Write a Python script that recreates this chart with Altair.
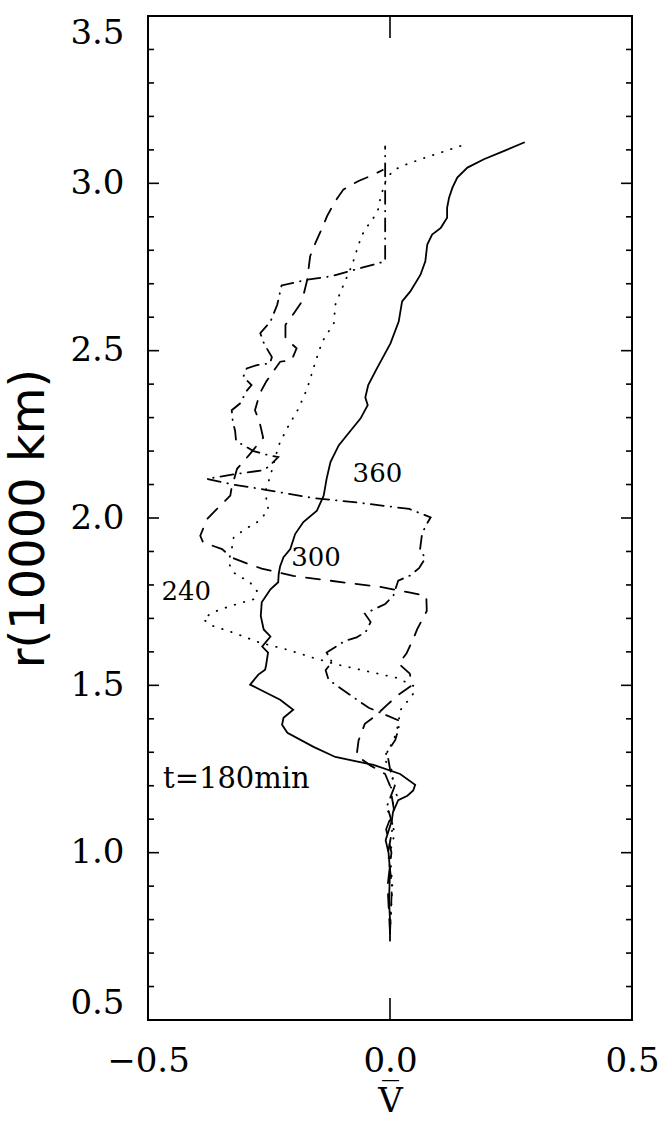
import altair as alt
import pandas as pd

# Mean radial velocity profiles V(r) at four times (V, r in 10000 km),
# listed from the inner end of each profile outward.
t180_v = [0.0, 0.0, -0.002, 0.0, -0.003, -0.009, -0.004, 0.004, 0.006, 0.017, 0.036, 0.048, 0.052,
          0.021, -0.034, -0.113, -0.158, -0.212, -0.223, -0.22, -0.2, -0.227, -0.268, -0.289, -0.272,
          -0.258, -0.256, -0.252, -0.264, -0.247, -0.261, -0.267, -0.265, -0.247, -0.231, -0.23,
          -0.227, -0.22, -0.206, -0.196, -0.179, -0.151, -0.14, -0.137, -0.131, -0.123, -0.106,
          -0.082, -0.061, -0.046, -0.051, -0.045, -0.027, 0.001, 0.018, 0.025, 0.042, 0.063, 0.073,
          0.077, 0.087, 0.105, 0.118, 0.118, 0.122, 0.129, 0.139, 0.16, 0.194, 0.236, 0.277]
t180_r = [0.737, 0.80, 0.857, 0.947, 1.0, 1.037, 1.06, 1.097, 1.12, 1.157, 1.17, 1.186, 1.203,
          1.235, 1.262, 1.286, 1.316, 1.358, 1.382, 1.403, 1.427, 1.457, 1.487, 1.502, 1.532,
          1.547, 1.56, 1.598, 1.616, 1.646, 1.667, 1.707, 1.748, 1.787, 1.808, 1.832,
          1.856, 1.883, 1.907, 1.952, 1.988, 2.022, 2.057, 2.067, 2.117, 2.167, 2.217,
          2.26, 2.297, 2.337, 2.36, 2.397, 2.447, 2.522, 2.587, 2.647, 2.677, 2.727, 2.767,
          2.817, 2.847, 2.867, 2.897, 2.927, 2.957, 2.987, 3.017, 3.047, 3.072, 3.097, 3.122]

t240_v = [0.0, 0.005, 0.0, 0.01, -0.005, 0.015, 0.001, 0.008, -0.013, 0.008, 0.015, 0.022, 0.036,
          0.049, 0.05, 0.015, -0.047, -0.109, -0.158, -0.213, -0.268, -0.323, -0.365, -0.386,
          -0.368, -0.33, -0.282, -0.275, -0.289, -0.323, -0.334, -0.327, -0.323, -0.299, -0.275,
          -0.251, -0.258, -0.247, -0.23, -0.213, -0.189, -0.171, -0.154, -0.14, -0.116, -0.113,
          -0.096, -0.078, -0.065, -0.054, -0.034, -0.023, -0.02, -0.009, 0.005, 0.025, 0.063,
          0.105, 0.153]
t240_r = [0.76, 0.9, 1.0, 1.06, 1.12, 1.17, 1.197, 1.237, 1.282, 1.337, 1.372, 1.427, 1.452,
          1.477, 1.497, 1.522, 1.542, 1.562, 1.582, 1.607, 1.627, 1.657, 1.677, 1.697,
          1.717, 1.737, 1.757, 1.782, 1.807, 1.837, 1.867, 1.907, 1.942, 1.967, 1.987,
          2.022, 2.077, 2.127, 2.217, 2.267, 2.327, 2.387, 2.467, 2.527, 2.582, 2.637,
          2.697, 2.757, 2.817, 2.857, 2.897, 2.927, 2.957, 3.007, 3.037, 3.052, 3.072,
          3.092, 3.115]

t300_v = [0.0, -0.005, 0.003, -0.008, 0.008, 0.0, -0.01, -0.04, -0.069, -0.065, -0.052, -0.031,
          -0.007, 0.014, 0.045, 0.041, 0.018, 0.034, 0.049, 0.056, 0.076, 0.075, 0.042, -0.02,
          -0.082, -0.2, -0.265, -0.292, -0.327, -0.347, -0.386, -0.392, -0.378, -0.361, -0.33,
          -0.327, -0.316, -0.29, -0.262, -0.27, -0.279, -0.269, -0.256, -0.24, -0.227, -0.203,
          -0.193, -0.216, -0.216, -0.196, -0.182, -0.171, -0.165, -0.154, -0.14, -0.13, -0.113,
          -0.096, -0.065, -0.04, -0.015]
t300_r = [0.76, 0.9, 1.0, 1.07, 1.13, 1.2, 1.235, 1.26, 1.29, 1.335, 1.385, 1.408,
          1.44, 1.468, 1.50, 1.535, 1.565, 1.595, 1.642, 1.667, 1.722, 1.767, 1.777, 1.794,
          1.805, 1.827, 1.849, 1.862, 1.882, 1.907, 1.927, 1.947, 1.997, 2.022, 2.067,
          2.092, 2.147, 2.19, 2.24, 2.29, 2.322, 2.372, 2.407, 2.44, 2.467, 2.472,
          2.507, 2.537, 2.577, 2.617, 2.647, 2.712, 2.782, 2.822, 2.867, 2.902, 2.947,
          2.982, 3.007, 3.022, 3.04]

t360_v = [0.0, 0.004, -0.004, 0.006, -0.006, 0.01, 0.0, -0.006, 0.011, 0.018, 0.018, -0.026,
          -0.044, -0.103, -0.127, -0.133, -0.12, -0.131, -0.093, -0.069, -0.05, -0.04, -0.052,
          -0.01, 0.007, 0.017, 0.041, 0.06, 0.073, 0.062, 0.066, 0.073, 0.084, 0.04, -0.06,
          -0.16, -0.26, -0.324, -0.378, -0.316, -0.265, -0.252, -0.231, -0.258, -0.282, -0.3,
          -0.318, -0.32, -0.325, -0.327, -0.31, -0.296, -0.286, -0.303, -0.296, -0.275, -0.248,
          -0.244, -0.26, -0.268, -0.247, -0.233, -0.224, -0.171, -0.123, -0.085, -0.04, -0.01,
          -0.01]
t360_r = [0.76, 0.9, 1.0, 1.08, 1.14, 1.2, 1.25, 1.30, 1.337, 1.372, 1.395, 1.422,
          1.433, 1.492, 1.517, 1.545, 1.57, 1.598, 1.633, 1.643, 1.66, 1.689, 1.714,
          1.743, 1.768, 1.813, 1.828, 1.85, 1.88, 1.905, 1.95, 1.975, 2.002, 2.027, 2.045,
          2.06, 2.085, 2.1, 2.117, 2.132, 2.142, 2.152, 2.182, 2.19, 2.2, 2.215,
          2.23, 2.26, 2.29, 2.322, 2.342, 2.38, 2.397, 2.422, 2.447, 2.457, 2.462,
          2.481, 2.52, 2.552, 2.587, 2.637, 2.695, 2.712, 2.722, 2.737, 2.755, 2.767,
          3.11]

# Curve labels
label_text = ["t=180min", "240", "300", "360"]
label_v = [-0.469, -0.421, -0.153, -0.026]
label_r = [1.22, 1.78, 1.88, 2.13]
label_align = ["left", "center", "center", "center"]
label_size = [29, 26, 26, 26]

# Axis ticks
x_major = [-0.5, 0.0, 0.5]
y_major = [0.5, 1.0, 1.5, 2.0, 2.5, 3.0, 3.5]
y_minor = [0.6, 0.7, 0.8, 0.9, 1.1, 1.2, 1.3, 1.4, 1.6, 1.7, 1.8, 1.9, 2.1, 2.2, 2.3, 2.4,
           2.6, 2.7, 2.8, 2.9, 3.1, 3.2, 3.3, 3.4]

W, H = 484, 1004
SERIF = "DejaVu Serif"

xs = alt.Scale(domain=[-0.5, 0.5], nice=False, zero=False)
ys = alt.Scale(domain=[0.5, 3.5], nice=False, zero=False)

x_axis = alt.Axis(values=x_major, format=".1f", grid=False, ticks=False, domain=False,
                  labelFont=SERIF, labelFontSize=34, labelPadding=24, labelColor="black",
                  labelFlush=False, title="V\u0305", titleFont=SERIF, titleFontSize=34,
                  titleFontWeight="normal", titleColor="black", titlePadding=6)
y_axis = alt.Axis(values=y_major, format=".1f", grid=False, ticks=False, domain=False,
                  labelFont=SERIF, labelFontSize=34, labelPadding=24, labelColor="black",
                  labelFlush=True, title="r(10000 km)", titleFont="DejaVu Sans",
                  titleFontSize=48, titleFontWeight="normal", titleColor="black",
                  titlePadding=16)

X = alt.X("v:Q", scale=xs, axis=x_axis)
Y = alt.Y("r:Q", scale=ys, axis=y_axis)


def profile(v, r):
    return pd.DataFrame({"v": v, "r": r, "i": list(range(len(v)))})


def curve(v, r, dash):
    kw = dict(color="black", strokeWidth=1.8, strokeCap="round")
    if dash:
        kw["strokeDash"] = dash
    return alt.Chart(profile(v, r)).mark_line(**kw).encode(x=X, y=Y, order="i:Q")


lines = [
    curve(t180_v, t180_r, None),
    curve(t240_v, t240_r, [0.5, 9]),
    curve(t300_v, t300_r, [14, 11]),
    curve(t360_v, t360_r, [13, 7, 0.5, 7]),
]

ymaj = alt.Chart(pd.DataFrame({"r": y_major}))
ymin = alt.Chart(pd.DataFrame({"r": y_minor}))
xmaj = alt.Chart(pd.DataFrame({"v": x_major}))
tick_style = dict(color="black", strokeWidth=1.6)
ticks = [
    ymaj.mark_rule(**tick_style).encode(y=Y, x=alt.value(0), x2=alt.value(11)),
    ymaj.mark_rule(**tick_style).encode(y=Y, x=alt.value(W), x2=alt.value(W - 11)),
    ymin.mark_rule(**tick_style).encode(y=Y, x=alt.value(0), x2=alt.value(6)),
    ymin.mark_rule(**tick_style).encode(y=Y, x=alt.value(W), x2=alt.value(W - 6)),
    xmaj.mark_rule(**tick_style).encode(x=X, y=alt.value(H), y2=alt.value(H - 22)),
    xmaj.mark_rule(**tick_style).encode(x=X, y=alt.value(0), y2=alt.value(22)),
]

labels_df = pd.DataFrame({"text": label_text, "v": label_v, "r": label_r,
                          "align": label_align, "size": label_size})
labels = []
for al in ["left", "center"]:
    labels.append(
        alt.Chart(labels_df[labels_df["align"] == al]).mark_text(
            font=SERIF, color="black", align=al, baseline="middle"
        ).encode(x=X, y=Y, text="text:N",
                 size=alt.Size("size:Q", scale=None, legend=None))
    )

chart = alt.layer(*lines, *ticks, *labels).properties(
    width=W,
    height=H,
    autosize=alt.AutoSizeParams(type="none"),
    padding={"left": 148, "top": 16, "right": 33, "bottom": 101},
    background="white",
).configure_view(stroke="black", strokeWidth=2)

chart.save("out.html", embed_options={"renderer": "svg", "actions": False})
